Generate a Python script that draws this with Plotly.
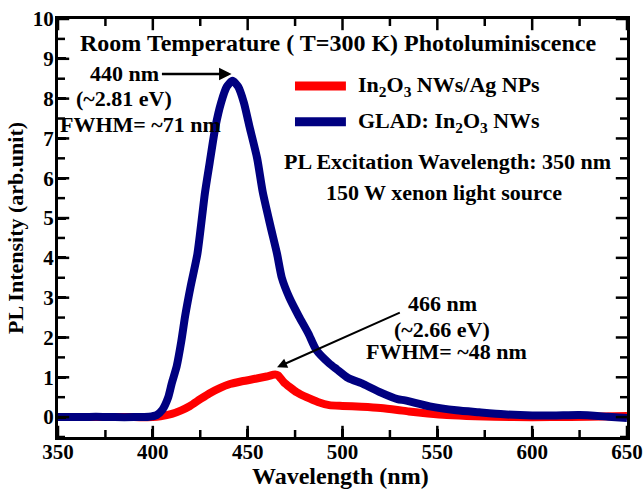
import plotly.graph_objects as go

# Data
wl_blue = [350, 360, 370, 380, 390, 398, 402, 405, 408, 410, 412.6, 415, 417, 420, 423.5, 427.5, 430, 433,
           436, 439, 442, 445, 448, 451, 455, 458, 462, 465.5, 468, 472, 477, 482, 486, 493, 497, 503, 511,
           520, 529, 533, 546, 560, 572, 585, 600, 612, 625, 640, 650]
pl_blue = [0.0, 0.0, 0.01, 0.0, 0.0, 0.01, 0.05, 0.18, 0.48, 0.85, 1.28, 1.9, 2.53, 3.3, 4.1, 5.64, 6.4, 7.29,
           7.9, 8.3, 8.45, 8.3, 7.9, 7.29, 6.5, 5.64, 4.8, 4.1, 3.5, 3.0, 2.53, 2.1, 1.7, 1.35, 1.2, 0.98, 0.83,
           0.62, 0.45, 0.42, 0.27, 0.17, 0.12, 0.07, 0.04, 0.04, 0.05, 0.01, -0.02]

wl_red = [350, 370, 390, 400, 404, 410, 415, 419.6, 425, 430, 435, 440.7, 447, 454.8, 460, 464.5, 466, 469,
          472.3, 476, 481, 487, 493, 500, 510, 520, 529, 535, 545, 555, 570, 590, 610, 630, 650]
pl_red = [0.0, 0.0, 0.0, 0.0, 0.02, 0.08, 0.17, 0.28, 0.45, 0.6, 0.72, 0.83, 0.9, 0.97, 1.02, 1.07, 1.05, 0.88,
          0.75, 0.62, 0.5, 0.38, 0.3, 0.28, 0.26, 0.23, 0.18, 0.14, 0.09, 0.05, 0.02, 0.0, 0.0, 0.01, 0.03]

x_ticks = [350, 400, 450, 500, 550, 600, 650]
y_ticks = [0, 1, 2, 3, 4, 5, 6, 7, 8, 9, 10]
x_range = [350, 650]
y_range = [-0.5, 10]

name_red = "In<sub>2</sub>O<sub>3</sub> NWs/Ag NPs"
name_blue = "GLAD: In<sub>2</sub>O<sub>3</sub> NWs"
RED = "#ff0000"
BLUE = "#000080"

FONT = "Liberation Serif, Times New Roman, serif"

fig = go.Figure()
fig.add_trace(go.Scatter(x=wl_red, y=pl_red, mode="lines", name=name_red,
                         line=dict(color=RED, width=8, shape="spline", smoothing=0.6), showlegend=False))
fig.add_trace(go.Scatter(x=wl_blue, y=pl_blue, mode="lines", name=name_blue,
                         line=dict(color=BLUE, width=8, shape="spline", smoothing=0.6), showlegend=False))

# inward tick marks on all four sides, drawn as line markers centred on the frame
# (half of each marker falls outside the plot area and is clipped)
x_minor = [(a + b) / 2 for a, b in zip(x_ticks[:-1], x_ticks[1:])]
y_minor = [y_ticks[0] - 0.5] + [(a + b) / 2 for a, b in zip(y_ticks[:-1], y_ticks[1:])]
for vals, size in ((x_ticks, 16), (x_minor, 10)):
    for yv in y_range:
        fig.add_trace(go.Scatter(x=vals, y=[yv] * len(vals), mode="markers", hoverinfo="skip",
                                 showlegend=False, cliponaxis=True,
                                 marker=dict(symbol="line-ns", size=size, color="black",
                                             line=dict(width=2.5, color="black"))))
for vals, size in ((y_ticks, 16), (y_minor, 10)):
    for xv in x_range:
        fig.add_trace(go.Scatter(x=[xv] * len(vals), y=vals, mode="markers", hoverinfo="skip",
                                 showlegend=False, cliponaxis=True,
                                 marker=dict(symbol="line-ew", size=size, color="black",
                                             line=dict(width=2.5, color="black"))))

tick_common = dict(ticks="inside", ticklen=8, tickwidth=2.5, tickcolor="black",
                   showgrid=False, zeroline=False, automargin=False)
tickfont = dict(family=FONT, size=21, color="black", weight="bold")

fig.update_layout(
    xaxis=dict(range=x_range, tickvals=x_ticks, ticklabelstandoff=-6, tickfont=tickfont,
               showline=True, linecolor="black", linewidth=3, mirror=True, **tick_common),
    yaxis=dict(range=y_range, tickvals=y_ticks, ticklabelstandoff=-3, tickfont=tickfont,
               showline=True, linecolor="black", linewidth=3, mirror=True,
               title=dict(text="PL Intensity (arb.unit)", standoff=4,
                          font=dict(family=FONT, size=22, color="black", weight="bold")),
               **tick_common),
)

tf = dict(family=FONT, size=22, color="black", weight="bold")

annotations = [
    dict(x=0.492, y=0.943, xref="paper", yref="paper", text="Room Temperature ( T=300 K) Photoluminiscence",
         showarrow=False, font=dict(family=FONT, size=24, color="black", weight="bold"),
         xanchor="center", yanchor="middle"),
    # x axis title
    dict(x=0.497, y=-0.093, xref="paper", yref="paper", text="Wavelength (nm)", showarrow=False,
         font=dict(family=FONT, size=24, color="black", weight="bold"), xanchor="center", yanchor="middle"),
    # legend texts
    dict(x=0.524, y=0.840, xref="paper", yref="paper", text=name_red, showarrow=False, font=tf,
         xanchor="left", yanchor="middle"),
    dict(x=0.524, y=0.754, xref="paper", yref="paper", text=name_blue, showarrow=False, font=tf,
         xanchor="left", yanchor="middle"),
    dict(x=0.684, y=0.659, xref="paper", yref="paper", text="PL Excitation Wavelength: 350 nm",
         showarrow=False, font=tf, xanchor="center", yanchor="middle"),
    dict(x=0.678, y=0.585, xref="paper", yref="paper", text="150 W xenon light source",
         showarrow=False, font=tf, xanchor="center", yanchor="middle"),
    # left peak
    dict(x=385, y=8.62, text="440 nm", showarrow=False, font=tf, xanchor="center", yanchor="middle"),
    dict(x=385, y=8.0, text="(~2.81 eV)", showarrow=False, font=tf, xanchor="center", yanchor="middle"),
    dict(x=393.5, y=7.34, text="FWHM= ~71 nm", showarrow=False, font=tf, xanchor="center", yanchor="middle"),
    dict(x=441.5, y=8.62, ax=404, ay=8.62, xref="x", yref="y", axref="x", ayref="y", text="",
         showarrow=True, arrowhead=2, arrowsize=1, arrowwidth=2.5, arrowcolor="black"),
    # right peak
    dict(x=552.5, y=2.86, text="466 nm", showarrow=False, font=tf, xanchor="center", yanchor="middle"),
    dict(x=552.5, y=2.21, text="(~2.66 eV)", showarrow=False, font=tf, xanchor="center", yanchor="middle"),
    dict(x=555, y=1.66, text="FWHM= ~48 nm", showarrow=False, font=tf, xanchor="center", yanchor="middle"),
    dict(x=465.5, y=1.25, ax=531, ay=2.64, xref="x", yref="y", axref="x", ayref="y", text="",
         showarrow=True, arrowhead=2, arrowsize=1, arrowwidth=2, arrowcolor="black"),
]

shapes = [
    dict(type="line", xref="paper", yref="paper", x0=0.4165, x1=0.506, y0=0.840, y1=0.840,
         line=dict(color=RED, width=9)),
    dict(type="line", xref="paper", yref="paper", x0=0.4165, x1=0.506, y0=0.754, y1=0.754,
         line=dict(color=BLUE, width=9)),
]

fig.update_layout(
    width=644, height=490,
    margin=dict(l=58, r=17, t=19, b=53),
    paper_bgcolor="white", plot_bgcolor="white",
    font=dict(family=FONT, color="black"),
    annotations=annotations, shapes=shapes,
    showlegend=False,
)

fig.write_html("out.html", config={"displayModeBar": False},
               post_script="document.body.style.margin='0';document.body.style.padding='0';")
